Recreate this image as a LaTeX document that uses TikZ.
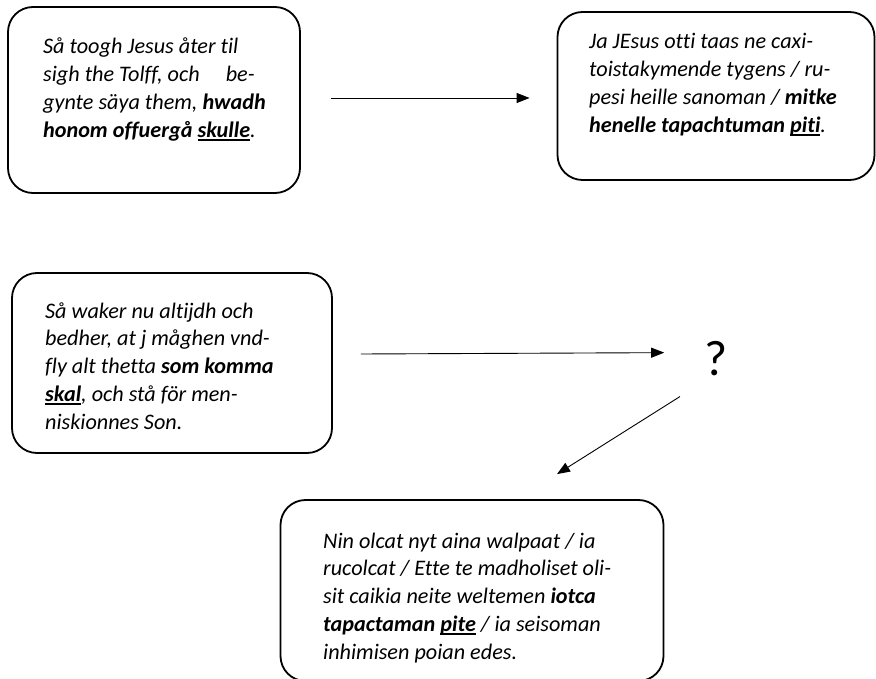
\documentclass[tikz,border=0pt]{standalone}
\usepackage{fontspec}
\setmainfont{Carlito}[Ligatures=NoCommon]
\usetikzlibrary{arrows.meta,calc}

% underline with a heavier rule than \underline
\newcommand\ulw[1]{\setbox0=\hbox{#1}\rlap{\rule[-3.5pt]{\wd0}{1.6pt}}\box0}
% ragged-right block whose baseline is that of its first line
\newcommand\cardtext[1]{\parbox[t]{300pt}{\raggedright#1}}

\begin{document}
\begin{tikzpicture}[x=1pt,y=-1pt,
  card/.style={draw=black, line width=1.8pt, rounded corners=25pt, inner sep=0pt},
  txt/.style={anchor=base west, inner sep=0pt,
    font=\fontsize{22.2}{27.8}\selectfont\itshape},
  link/.style={line width=0.9pt, -{Triangle[length=13pt,width=10pt]}}]
\useasboundingbox (0,0) rectangle (876,679);

% rounded cards
\node[card, minimum width=292pt, minimum height=186pt] (b1) at (154,100) {};
\node[card, minimum width=317pt, minimum height=168pt] (b2) at (716,96) {};
\node[card, minimum width=320pt, minimum height=180pt] (b3) at (172,363) {};
\node[card, minimum width=383pt, minimum height=181pt] (b4) at (472,590.5) {};

% texts
\node[txt] (t1) at (43,54) {\cardtext{Så toogh Jesus åter til\\
sigh the Tolff, och\hspace{26pt}be-\\
gynte säya them, \textbf{hwadh}\\
\textbf{honom offuergå \ulw{skulle}}.}};

\node[txt] (t2) at (589,49) {\cardtext{Ja JEsus otti taas ne caxi-\\
toistakymende tygens / ru-\\
pesi heille sanoman / \textbf{mitke}\\
\textbf{henelle tapachtuman \ulw{piti}}.}};

\node[txt] (t3) at (45,318) {\cardtext{Så waker nu altijdh och\\
bedher, at j måghen vnd-\\
fly alt thetta \textbf{som komma}\\
\textbf{\ulw{skal}}, och stå för men-\\
niskionnes Son.}};

\node[txt] (t4) at (323,548) {\cardtext{Nin olcat nyt aina walpaat / ia\\
rucolcat / Ette te madholiset oli-\\
sit caikia neite weltemen \textbf{iotca}\\
\textbf{tapactaman \ulw{pite}} / ia seisoman\\
inhimisen poian edes.}};

% question mark
\node[anchor=base, inner sep=0pt, font=\fontsize{50}{50}\selectfont] (q) at (716,375) {?};

% connectors
\draw[link] ($(b1.east)+(30,-2)$) -- ($(b2.west)+(-27,2)$);
\draw[link] ($(b3.east)+(28,-9)$) -- ($(q.north west)+(-40,12)$);
\draw[link] ($(q.south)+(-36,21)$) -- ($(b4.north)+(85,-25)$);
\end{tikzpicture}
\end{document}
